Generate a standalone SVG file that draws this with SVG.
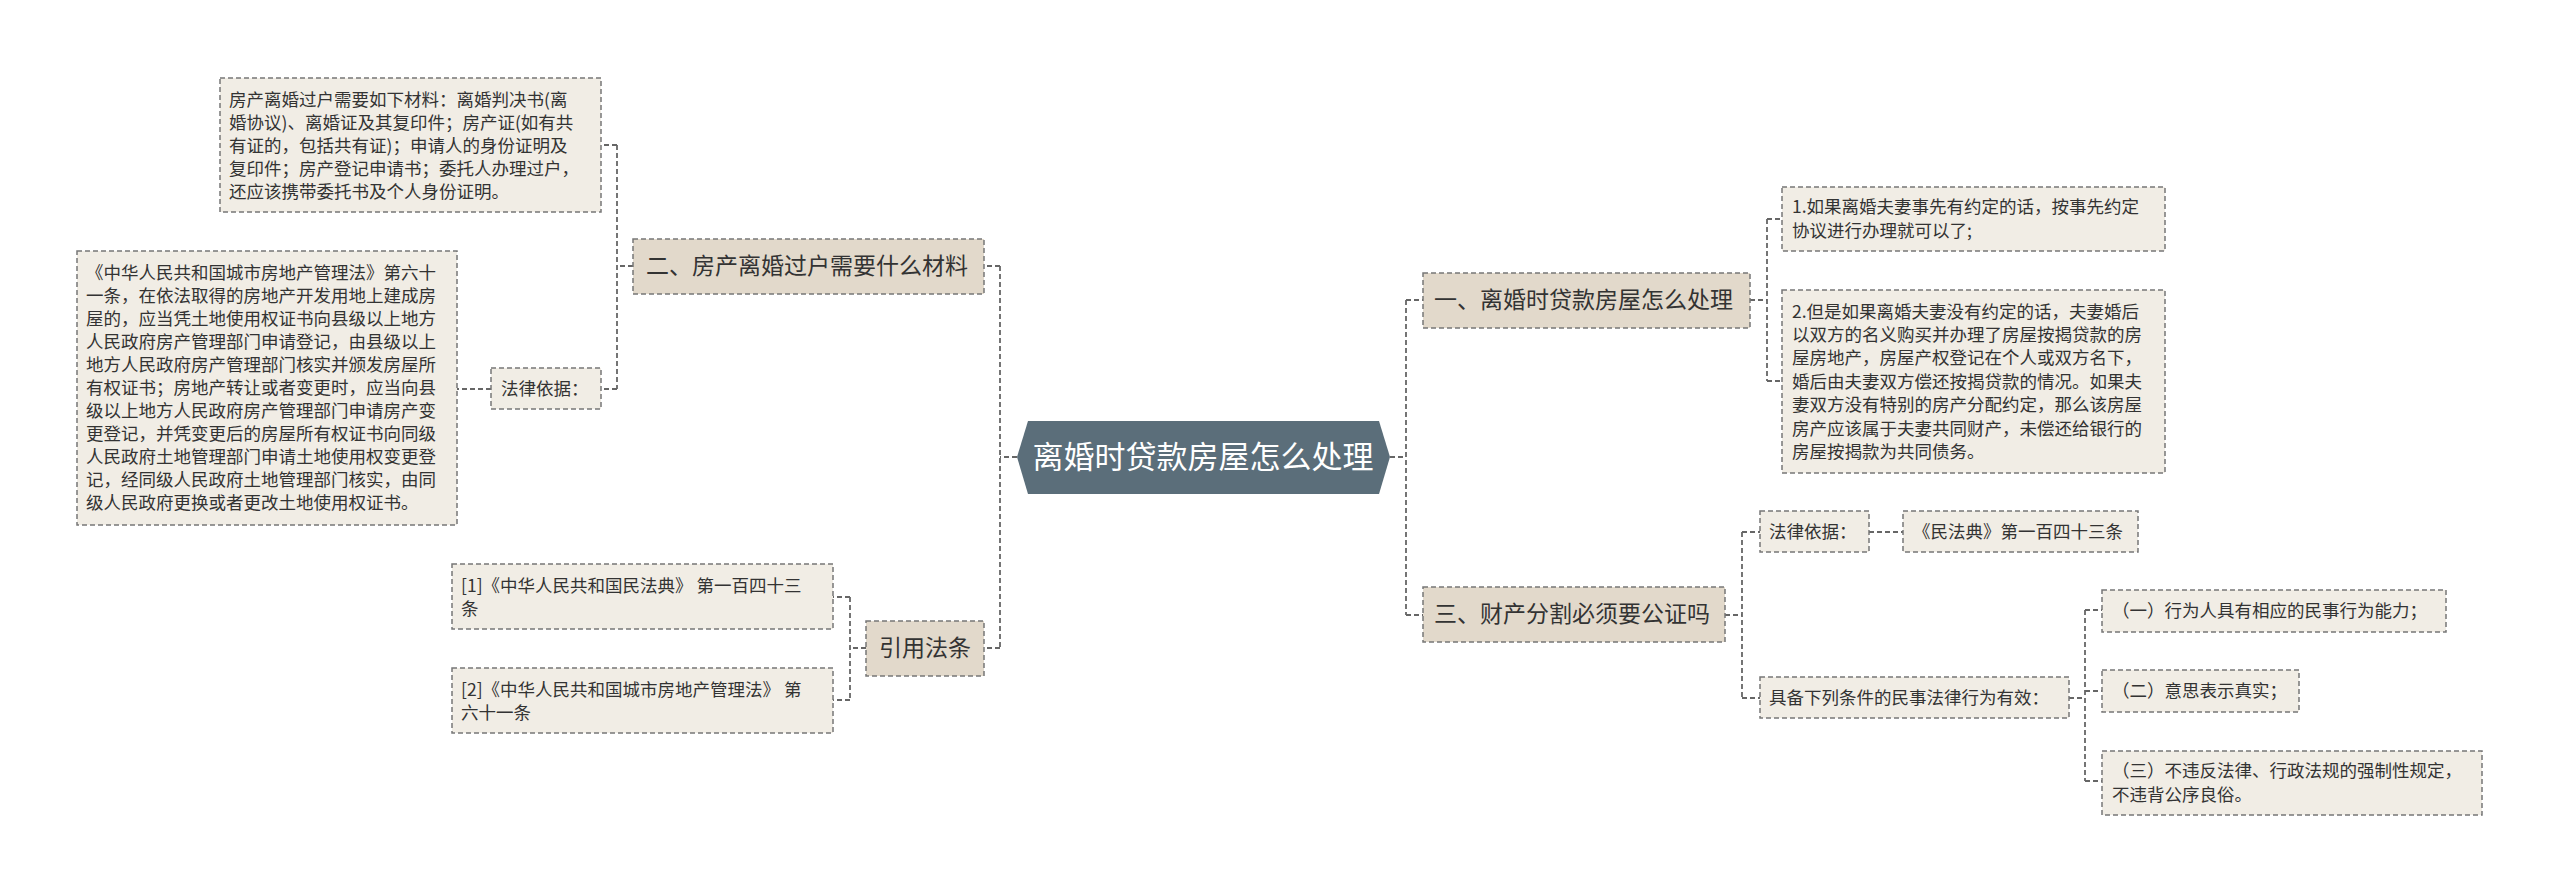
<svg xmlns="http://www.w3.org/2000/svg" width="2560" height="894" viewBox="0 0 2560 894">
<style>
text{font-family:"Noto Sans CJK SC","Noto Sans",sans-serif;fill:#333}
.b{fill:#f1ede5;stroke:#777;stroke-width:1.5;stroke-dasharray:5,3}
.m{fill:#e2d9cb;stroke:#777;stroke-width:1.5;stroke-dasharray:5,3}
.s{font-size:17.5px}
.l{font-size:23px}
.c{fill:none;stroke:#666;stroke-width:1.8;stroke-dasharray:5,3}
</style>
<rect width="2560" height="894" fill="#fff"/>
<g id="connectors">
<path class="c" d="M1017 457H1000M1000 266V648M1000 266H984M1000 648H984"/>
<path class="c" d="M633 266H617M617 145V389M617 145H601M617 389H601"/>
<path class="c" d="M491 389H457"/>
<path class="c" d="M866 648H850M850 597V700M850 597H833M850 700H833"/>
<path class="c" d="M1390 457H1406M1406 300V615M1406 300H1423M1406 615H1423"/>
<path class="c" d="M1750 300H1767M1767 219V381M1767 219H1782M1767 381H1782"/>
<path class="c" d="M1725 615H1742M1742 532V698M1742 532H1760M1742 698H1760"/>
<path class="c" d="M1869 532H1903"/>
<path class="c" d="M2069 698H2085M2085 610V781M2085 610H2102M2085 691H2102M2085 781H2102"/>
</g>
<g id="center">
<polygon points="1017,457 1028,421 1379,421 1390,457 1379,494 1028,494" fill="#5b6e7a"/>
<text x="1203" y="468" font-size="31" text-anchor="middle" style="fill:#fff">离婚时贷款房屋怎么处理</text>
</g>
<g id="n2">
<rect class="m" x="633" y="239" width="351" height="55"/>
<text class="l" x="646" y="274">二、房产离婚过户需要什么材料</text>
</g>
<g id="n2a">
<rect class="b" x="220" y="78" width="381" height="134"/>
<text class="s" x="229" y="106">房产离婚过户需要如下材料：离婚判决书(离</text>
<text class="s" x="229" y="129">婚协议)、离婚证及其复印件；房产证(如有共</text>
<text class="s" x="229" y="152">有证的，包括共有证)；申请人的身份证明及</text>
<text class="s" x="229" y="175">复印件；房产登记申请书；委托人办理过户，</text>
<text class="s" x="229" y="198">还应该携带委托书及个人身份证明。</text>
</g>
<g id="n2b">
<rect class="b" x="491" y="368" width="110" height="41"/>
<text class="s" x="501" y="395">法律依据：</text>
</g>
<g id="n2c">
<rect class="b" x="77" y="251" width="380" height="274"/>
<text class="s" x="86" y="279">《中华人民共和国城市房地产管理法》第六十</text>
<text class="s" x="86" y="302">一条，在依法取得的房地产开发用地上建成房</text>
<text class="s" x="86" y="325">屋的，应当凭土地使用权证书向县级以上地方</text>
<text class="s" x="86" y="348">人民政府房产管理部门申请登记，由县级以上</text>
<text class="s" x="86" y="371">地方人民政府房产管理部门核实并颁发房屋所</text>
<text class="s" x="86" y="394">有权证书；房地产转让或者变更时，应当向县</text>
<text class="s" x="86" y="417">级以上地方人民政府房产管理部门申请房产变</text>
<text class="s" x="86" y="440">更登记，并凭变更后的房屋所有权证书向同级</text>
<text class="s" x="86" y="463">人民政府土地管理部门申请土地使用权变更登</text>
<text class="s" x="86" y="486">记，经同级人民政府土地管理部门核实，由同</text>
<text class="s" x="86" y="509">级人民政府更换或者更改土地使用权证书。</text>
</g>
<g id="n4">
<rect class="m" x="866" y="621" width="118" height="55"/>
<text class="l" x="879" y="656">引用法条</text>
</g>
<g id="n4a">
<rect class="b" x="452" y="564" width="381" height="65"/>
<text class="s" x="461" y="592">[1]《中华人民共和国民法典》 第一百四十三</text>
<text class="s" x="461" y="615">条</text>
</g>
<g id="n4b">
<rect class="b" x="452" y="668" width="381" height="65"/>
<text class="s" x="461" y="696">[2]《中华人民共和国城市房地产管理法》 第</text>
<text class="s" x="461" y="719">六十一条</text>
</g>
<g id="n1">
<rect class="m" x="1423" y="273" width="327" height="55"/>
<text class="l" x="1434" y="308">一、离婚时贷款房屋怎么处理</text>
</g>
<g id="n1a">
<rect class="b" x="1782" y="187" width="383" height="64"/>
<text class="s" x="1792" y="213">1.如果离婚夫妻事先有约定的话，按事先约定</text>
<text class="s" x="1792" y="237">协议进行办理就可以了;</text>
</g>
<g id="n1b">
<rect class="b" x="1782" y="290" width="383" height="183"/>
<text class="s" x="1792" y="318">2.但是如果离婚夫妻没有约定的话，夫妻婚后</text>
<text class="s" x="1792" y="341">以双方的名义购买并办理了房屋按揭贷款的房</text>
<text class="s" x="1792" y="364">屋房地产，房屋产权登记在个人或双方名下，</text>
<text class="s" x="1792" y="388">婚后由夫妻双方偿还按揭贷款的情况。如果夫</text>
<text class="s" x="1792" y="411">妻双方没有特别的房产分配约定，那么该房屋</text>
<text class="s" x="1792" y="435">房产应该属于夫妻共同财产，未偿还给银行的</text>
<text class="s" x="1792" y="458">房屋按揭款为共同债务。</text>
</g>
<g id="n3">
<rect class="m" x="1423" y="587" width="302" height="55"/>
<text class="l" x="1434" y="622">三、财产分割必须要公证吗</text>
</g>
<g id="n3a">
<rect class="b" x="1760" y="511" width="109" height="41"/>
<text class="s" x="1769" y="538">法律依据：</text>
</g>
<g id="n3b">
<rect class="b" x="1903" y="511" width="235" height="41"/>
<text class="s" x="1913" y="538">《民法典》第一百四十三条</text>
</g>
<g id="n3c">
<rect class="b" x="1760" y="677" width="309" height="41"/>
<text class="s" x="1769" y="704">具备下列条件的民事法律行为有效：</text>
</g>
<g id="n3c1">
<rect class="b" x="2102" y="590" width="344" height="42"/>
<text class="s" x="2112" y="617">（一）行为人具有相应的民事行为能力；</text>
</g>
<g id="n3c2">
<rect class="b" x="2102" y="670" width="197" height="42"/>
<text class="s" x="2112" y="697">（二）意思表示真实；</text>
</g>
<g id="n3c3">
<rect class="b" x="2102" y="751" width="380" height="64"/>
<text class="s" x="2112" y="777">（三）不违反法律、行政法规的强制性规定，</text>
<text class="s" x="2112" y="801">不违背公序良俗。</text>
</g>
</svg>
